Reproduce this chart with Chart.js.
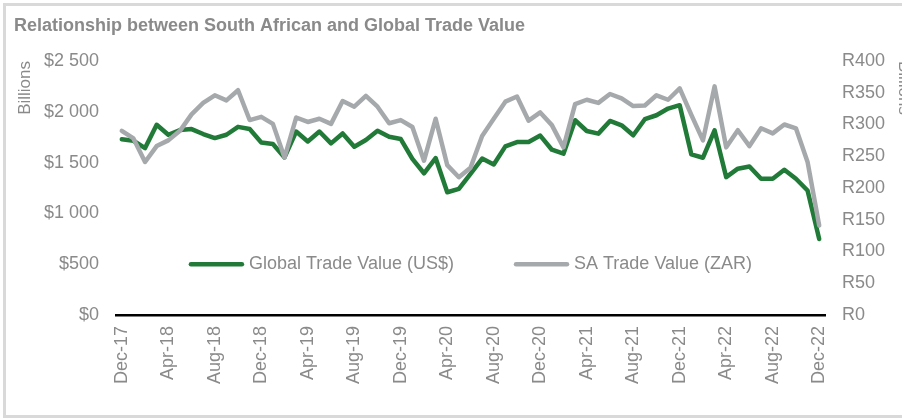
<!DOCTYPE html>
<html lang="en">
<head>
  <meta charset="UTF-8" />
  <title>Relationship between South African and Global Trade Value</title>
  <script src="https://cdn.jsdelivr.net/npm/chart.js"></script>
  <style>
    body {
      margin: 0;
      background: #fff;
      width: 902px;
      height: 418px;
      overflow: hidden;
      position: relative;
    }
    .frame {
      position: absolute;
      left: 3px;
      top: 3px;
      width: 1000px;
      height: 415px;
      border: 3px solid #d9d9d9;
      box-sizing: border-box;
    }
    canvas {
      position: absolute;
      left: 0;
      top: 0;
    }
  </style>
</head>
<body>
  <div class="frame"></div>
  <canvas id="tradeChart" width="930" height="418"></canvas>

  <script>
    const FONT = 'Arial, "Liberation Sans", sans-serif';
    const GREY_TEXT = '#8a8a8a';

    // monthly, Dec-17 .. Dec-22
    const MONTHS = ['Jan', 'Feb', 'Mar', 'Apr', 'May', 'Jun', 'Jul', 'Aug', 'Sep', 'Oct', 'Nov', 'Dec'];
    const months = [];
    for (let i = 0; i < 61; i++) {
      months.push(MONTHS[(11 + i) % 12] + '-' + (17 + Math.floor((11 + i) / 12)));
    }

    // Global trade value, US$ billions (left axis)
    const globalTrade = [
      1729, 1715, 1643, 1872, 1774, 1820, 1830, 1781, 1741, 1774,
      1852, 1830, 1698, 1683, 1551, 1806, 1708, 1806, 1689, 1787,
      1656, 1722, 1813, 1754, 1732, 1536, 1395, 1545, 1208, 1242,
      1389, 1540, 1482, 1660, 1702, 1702, 1766, 1627, 1588, 1917,
      1811, 1785, 1910, 1867, 1769, 1927, 1966, 2032, 2065, 1581,
      1548, 1818, 1357, 1440, 1462, 1341, 1341, 1430, 1341, 1225,
      748
    ];

    // SA trade value, R billions (right axis)
    const saTrade = [
      290, 278, 241, 266, 275, 290, 316, 334, 346, 338,
      354, 307, 312, 301, 248, 311, 304, 309, 301, 337,
      328, 345, 328, 302, 307, 296, 243, 309, 236, 217,
      232, 282, 309, 336, 344, 306, 319, 299, 264, 332,
      339, 334, 348, 341, 329, 330, 346, 339, 357, 315,
      275, 360, 264, 291, 266, 294, 286, 300, 294, 241,
      141
    ];

    const withSpaces = v => v.toString().replace(/\B(?=(\d{3})+(?!\d))/g, ' ');

    // legend drawn inside the plot, centred, at the $500 level
    const innerLegend = {
      id: 'innerLegend',
      afterDatasetsDraw(chart) {
        const { ctx, chartArea } = chart;
        const y = chart.scales.y.getPixelForValue(500);
        const lineLen = 55, gap = 5, between = 60;
        ctx.save();
        ctx.font = '18px ' + FONT;
        const items = chart.data.datasets.map(ds => ({
          text: ds.label,
          color: ds.borderColor,
          w: ctx.measureText(ds.label).width
        }));
        let total = between * (items.length - 1);
        items.forEach(it => { total += lineLen + gap + it.w; });
        let x = (chartArea.left + chartArea.right) / 2 - total / 2;
        items.forEach(it => {
          ctx.strokeStyle = it.color;
          ctx.lineWidth = 4.5;
          ctx.lineCap = 'round';
          ctx.beginPath();
          ctx.moveTo(x + 2, y);
          ctx.lineTo(x + lineLen - 2, y);
          ctx.stroke();
          ctx.fillStyle = GREY_TEXT;
          ctx.textBaseline = 'middle';
          ctx.textAlign = 'left';
          ctx.fillText(it.text, x + lineLen + gap, y);
          x += lineLen + gap + it.w + between;
        });
        ctx.restore();
      }
    };

    new Chart(document.getElementById('tradeChart'), {
      type: 'line',
      data: {
        labels: months,
        datasets: [
          {
            label: 'Global Trade Value (US$)',
            data: globalTrade,
            yAxisID: 'y',
            borderColor: '#217a37',
            borderWidth: 4.5,
            order: 1
          },
          {
            label: 'SA Trade Value (ZAR)',
            data: saTrade,
            yAxisID: 'y1',
            borderColor: '#a6a9ab',
            borderWidth: 4.5,
            order: 0
          }
        ]
      },
      options: {
        responsive: false,
        animation: false,
        elements: {
          point: { radius: 0 },
          line: { tension: 0, borderJoinStyle: 'round', borderCapStyle: 'round' }
        },
        layout: { padding: { left: 14, top: 0, right: 0, bottom: 0 } },
        plugins: {
          legend: { display: false },
          tooltip: { enabled: false },
          title: {
            display: true,
            text: 'Relationship between South African and Global Trade Value',
            align: 'start',
            color: GREY_TEXT,
            font: { family: FONT, size: 18, weight: 'bold' },
            padding: { top: 15, bottom: 24.4 }
          }
        },
        scales: {
          x: {
            offset: true,
            grid: { display: false, drawTicks: false },
            border: { display: true, color: '#000', width: 2.5 },
            ticks: {
              autoSkip: false,
              minRotation: 90,
              maxRotation: 90,
              padding: 11,
              color: GREY_TEXT,
              font: { family: FONT, size: 18 },
              callback: (v, i) => (i % 4 === 0 ? months[i] : '')
            },
            afterFit: s => { s.height = 103; }
          },
          y: {
            position: 'left',
            min: 0,
            max: 2500,
            grid: { display: false, drawTicks: false },
            border: { display: false },
            ticks: {
              stepSize: 500,
              padding: 17,
              color: GREY_TEXT,
              font: { family: FONT, size: 18 },
              callback: v => '$' + withSpaces(v)
            },
            title: {
              display: true,
              text: 'Billions',
              align: 'end',
              color: GREY_TEXT,
              font: { family: FONT, size: 17 },
              padding: { top: 1, bottom: 0 }
            },
            afterFit: s => { s.width = 102; }
          },
          y1: {
            position: 'right',
            min: 0,
            max: 400,
            grid: { display: false, drawTicks: false },
            border: { display: false },
            ticks: {
              stepSize: 50,
              padding: 17,
              color: GREY_TEXT,
              font: { family: FONT, size: 18 },
              callback: v => 'R' + v
            },
            title: {
              display: true,
              text: 'Billions',
              align: 'end',
              color: GREY_TEXT,
              font: { family: FONT, size: 17 },
              padding: { top: 16, bottom: 0 }
            },
            afterFit: s => { s.width = 105; }
          }
        }
      },
      plugins: [innerLegend]
    });
  </script>
</body>
</html>
